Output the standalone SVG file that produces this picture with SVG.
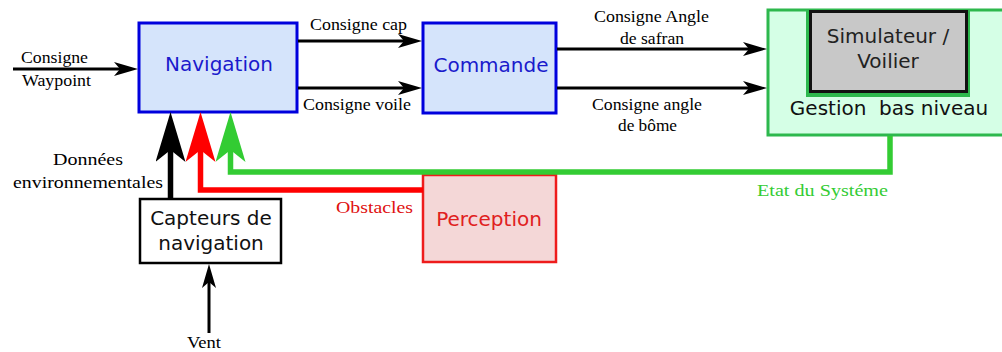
<svg xmlns="http://www.w3.org/2000/svg" width="1002" height="352" viewBox="0 0 1002 352">
<style>
.lbl{font-family:"Liberation Serif","Times New Roman",serif;font-size:17.5px;fill:#000}
.box{font-family:"DejaVu Sans","Liberation Sans",sans-serif;font-size:20px;text-anchor:middle}
.thin{fill:none;stroke:#000;stroke-width:3}
.thick{fill:none;stroke-width:5.5}
</style>
<defs>
<marker id="ah" markerUnits="userSpaceOnUse" viewBox="0 0 24 14" refX="8" refY="7" markerWidth="24" markerHeight="14" orient="auto">
<path d="M0,0 L24,7 L0,14 L6,7 Z" fill="#000"/>
</marker>
<marker id="bigK" markerUnits="userSpaceOnUse" viewBox="0 0 50 30" refX="14" refY="15" markerWidth="50" markerHeight="30" orient="auto">
<path d="M0,0 L50,15 L0,30 L12,15 Z" fill="#000"/>
</marker>
<marker id="bigR" markerUnits="userSpaceOnUse" viewBox="0 0 50 30" refX="14" refY="15" markerWidth="50" markerHeight="30" orient="auto">
<path d="M0,0 L50,15 L0,30 L12,15 Z" fill="#ff0000"/>
</marker>
<marker id="bigG" markerUnits="userSpaceOnUse" viewBox="0 0 50 30" refX="14" refY="15" markerWidth="50" markerHeight="30" orient="auto">
<path d="M0,0 L50,15 L0,30 L12,15 Z" fill="#33cc33"/>
</marker>
</defs>
<rect width="1002" height="352" fill="#fff"/>

<g id="gestion">
<rect x="768" y="10" width="250" height="125" fill="#d5ffe6" stroke="#2db84d" stroke-width="3"/>
<rect x="806" y="10" width="164" height="87" fill="#2db84d"/>
<rect x="810.5" y="11.5" width="156" height="80" fill="#c8c8c8" stroke="#111" stroke-width="3"/>
<text class="box" x="888" y="43" fill="#222">Simulateur /</text>
<text class="box" x="888" y="68" fill="#222">Voilier</text>
<text class="box" x="889" y="115" fill="#111" xml:space="preserve" style="white-space:pre">Gestion  bas niveau</text>
</g>

<g id="navigation">
<rect x="139" y="23" width="158" height="89" fill="#d5e4fb" stroke="#0000dd" stroke-width="3"/>
<text class="box" x="219" y="71" fill="#1a1acc">Navigation</text>
</g>

<g id="commande">
<rect x="423" y="23" width="133" height="90" fill="#d5e4fb" stroke="#0000dd" stroke-width="3"/>
<text class="box" x="491" y="72" fill="#1a1acc">Commande</text>
</g>

<g id="perception">
<rect x="423" y="175" width="133" height="87" fill="#f4d7d7" stroke="#ee1c1c" stroke-width="2.5"/>
<text class="box" x="489" y="226" fill="#e02020">Perception</text>
</g>

<g id="capteurs">
<rect x="140" y="199" width="141" height="64" fill="#fff" stroke="#000" stroke-width="2.5"/>
<text class="box" x="211" y="225" fill="#111">Capteurs de</text>
<text class="box" x="211" y="250" fill="#111">navigation</text>
</g>

<g id="connectors">
<line class="thin" x1="13" y1="69" x2="122" y2="69" marker-end="url(#ah)"/>
<line class="thin" x1="298" y1="41" x2="406" y2="41" marker-end="url(#ah)"/>
<line class="thin" x1="298" y1="88" x2="406" y2="88" marker-end="url(#ah)"/>
<line class="thin" x1="557" y1="49" x2="751" y2="49" marker-end="url(#ah)"/>
<line class="thin" x1="557" y1="88" x2="751" y2="88" marker-end="url(#ah)"/>
<line class="thin" x1="209" y1="333" x2="209" y2="280" marker-end="url(#ah)"/>
<path class="thick" stroke="#33cc33" d="M890,136 V172 H230.5 V148" marker-end="url(#bigG)"/>
<path class="thick" stroke="#ff0000" d="M423,190 H200.5 V148" marker-end="url(#bigR)"/>
<path class="thick" stroke="#000" d="M170.5,198 V148" marker-end="url(#bigK)"/>
</g>

<g id="labels">
<text class="lbl" x="21" y="63" textLength="67" lengthAdjust="spacingAndGlyphs">Consigne</text>
<text class="lbl" x="22" y="86" textLength="69" lengthAdjust="spacingAndGlyphs">Waypoint</text>
<text class="lbl" x="310" y="30" textLength="97" lengthAdjust="spacingAndGlyphs">Consigne cap</text>
<text class="lbl" x="303" y="110" textLength="108" lengthAdjust="spacingAndGlyphs">Consigne voile</text>
<text class="lbl" x="594" y="22" textLength="115" lengthAdjust="spacingAndGlyphs">Consigne Angle</text>
<text class="lbl" x="620" y="44" textLength="64" lengthAdjust="spacingAndGlyphs">de safran</text>
<text class="lbl" x="592" y="110" textLength="110" lengthAdjust="spacingAndGlyphs">Consigne angle</text>
<text class="lbl" x="618" y="131" textLength="59" lengthAdjust="spacingAndGlyphs">de bôme</text>
<text class="lbl" x="757" y="196" textLength="131" lengthAdjust="spacingAndGlyphs" style="fill:#33cc33">Etat du Systéme</text>
<text class="lbl" x="336" y="213" textLength="77" lengthAdjust="spacingAndGlyphs" style="fill:#e01010">Obstacles</text>
<text class="lbl" x="53" y="165" textLength="70" lengthAdjust="spacingAndGlyphs">Données</text>
<text class="lbl" x="13" y="188" textLength="150" lengthAdjust="spacingAndGlyphs">environnementales</text>
<text class="lbl" x="187" y="348" textLength="34" lengthAdjust="spacingAndGlyphs">Vent</text>
</g>
</svg>
